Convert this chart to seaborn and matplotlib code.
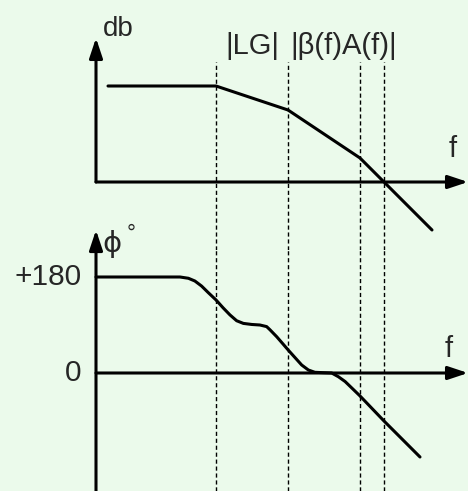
import matplotlib
matplotlib.use('Agg')
import matplotlib.pyplot as plt
import seaborn as sns
import pandas as pd

# frequency axis in log-like units, corner frequencies marked by dashed lines
corner_f = [5, 8, 11, 12]

# |LG| asymptotic magnitude (db, arbitrary units)
mag_f = [0.5, 5, 8, 11, 12, 14]
mag_db = [4, 4, 3, 1, 0, -2]

# loop phase (degrees)
phase_f = [0, 3.5, 3.85, 4.12, 4.4, 4.68, 5.0, 5.3, 5.58, 5.86, 6.14, 6.49,
           6.83, 7.11, 7.25, 7.53, 7.8, 8.01, 8.29, 8.57, 8.85, 9.12, 9.47,
           9.82, 10.1, 10.38, 11.0, 12.0, 13.5]
phase_deg = [180, 180, 177.6, 172.5, 163, 150.6, 137, 122, 109, 98, 93, 91,
             90, 87, 81, 68, 54, 43, 29, 15, 5.6, 1.3, 0.6,
             0, -7, -16, -43, -90, -157.5]

phase_ticks = [180, 0]
phase_tick_labels = ['+180', '0']

bg = '#ebfaeb'
sns.set_style('white', {'axes.facecolor': bg, 'figure.facecolor': bg})
plt.rcParams['font.family'] = ['Liberation Sans', 'DejaVu Sans']

df_mag = pd.DataFrame({'f': mag_f, 'db': mag_db})
df_phase = pd.DataFrame({'f': phase_f, 'deg': phase_deg})

fig = plt.figure(figsize=(4.68, 4.91), dpi=100)
ax_mag = fig.add_axes([0, 241 / 491, 1, 250 / 491])
ax_ph = fig.add_axes([0, 0, 1, 241 / 491])

xlim = (-4, 15.5)
ax_mag.set_xlim(*xlim)
ax_mag.set_ylim(-68 / 24, 182 / 24)
ax_ph.set_xlim(*xlim)
ax_ph.set_ylim((373 - 491) * 1.875, (373 - 250) * 1.875)

lw = 2.2
arrow = dict(arrowstyle='-|>,head_length=0.6,head_width=0.2', lw=lw,
             color='black', mutation_scale=20, shrinkA=0, shrinkB=0)
dash = (0, (3, 2))

# ---- magnitude plot
ax_mag.vlines(corner_f, ax_mag.get_ylim()[0], 5, colors='black', lw=1.0,
              linestyles=dash)
sns.lineplot(data=df_mag, x='f', y='db', ax=ax_mag, color='black', lw=lw,
             estimator=None, sort=False)
ax_mag.annotate('', xy=(0, 6), xytext=(0, 0), arrowprops=arrow,
                annotation_clip=False)
ax_mag.annotate('', xy=(xlim[1], 0), xytext=(0, 0), arrowprops=arrow,
                annotation_clip=False)
ax_mag.text(0.29, 6.1, 'db', fontsize=20, ha='left', va='baseline')
ax_mag.text(14.85, 1.04, 'f', fontsize=21, ha='center', va='baseline')
ax_mag.text(5.4, 5.35, '|LG|', fontsize=21, ha='left', va='baseline')
ax_mag.text(8.1, 5.35, '|β(f)A(f)|', fontsize=21, ha='left', va='baseline')

# ---- phase plot
ax_ph.vlines(corner_f, *ax_ph.get_ylim(), colors='black', lw=1.0,
             linestyles=dash)
sns.lineplot(data=df_phase, x='f', y='deg', ax=ax_ph, color='black', lw=lw,
             estimator=None, sort=False)
ax_ph.annotate('', xy=(0, 268), xytext=(0, ax_ph.get_ylim()[0]), arrowprops=arrow,
               annotation_clip=False)
ax_ph.annotate('', xy=(xlim[1], 0), xytext=(0, 0), arrowprops=arrow,
               annotation_clip=False)
for v, lab in zip(phase_ticks, phase_tick_labels):
    ax_ph.text(-0.6, v, lab, fontsize=21.5, ha='right', va='center')
ax_ph.text(0.25, 242, 'ϕ', fontsize=21, ha='left', va='center', family=['DejaVu Sans'])
ax_ph.text(1.45, 250, '°', fontsize=16, ha='center', va='baseline')
ax_ph.text(14.7, 30, 'f', fontsize=21, ha='center', va='baseline')

for ax in (ax_mag, ax_ph):
    ax.axis('off')

fig.savefig('out.png', dpi=100, facecolor=bg)
